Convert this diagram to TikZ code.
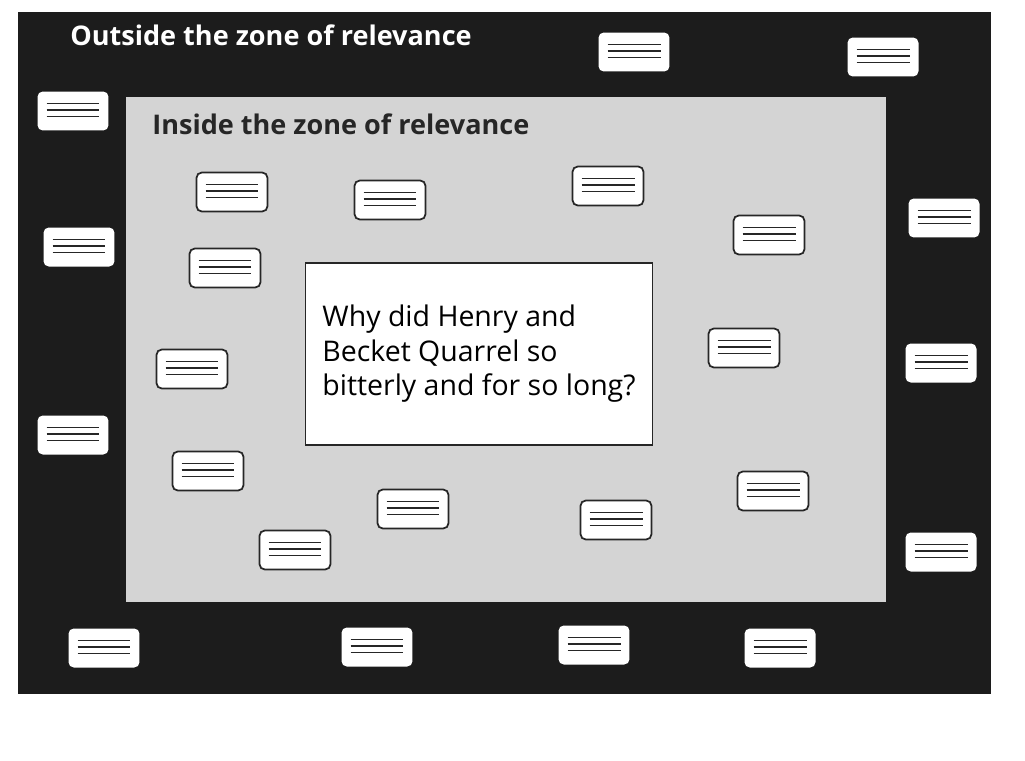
\documentclass[tikz,border=0pt]{standalone}
\usepackage{fontspec}
\setmainfont{Open Sans}
\usepackage{xcolor}
\usepackage{tikz}

\definecolor{zoneout}{gray}{0.11}
\definecolor{zonein}{gray}{0.83}

\begin{document}
\begin{tikzpicture}[
    x=0.02cm, y=-0.02cm,
    card/.style={
      rectangle, rounded corners=3pt,
      fill=white, inner sep=0pt,
      minimum width=1.42cm, minimum height=0.78cm,
      path picture={
        \foreach \dy in {0.15,0.02,-0.11}
          \draw[line width=0.9pt, black!85]
            ([xshift=0.18cm,yshift=\dy cm]path picture bounding box.west) --
            ([xshift=-0.18cm,yshift=\dy cm]path picture bounding box.east);
      }
    },
    outcard/.style={card},
    incard/.style={card, draw=black!85, line width=1pt},
    question/.style={
      rectangle, draw=black!85, line width=0.9pt,
      fill=white, minimum width=6.94cm, minimum height=3.64cm,
      align=left,
      font=\fontsize{16.2}{19.6}\selectfont
    },
    zonetitle/.style={anchor=base west, inner sep=0pt, font=\fontsize{15.4}{18}\selectfont\bfseries}
  ]
    \useasboundingbox[fill=white] (0,0) rectangle (1025,761);

    % zones
    \fill[zoneout] (18,12) rectangle (991,694);
    \fill[zonein] (126,97) rectangle (886,602);

    \node[zonetitle, text=white] (outtitle) at (70,45) {Outside the zone of relevance};
    \node[zonetitle, text=black!85] (intitle) at (152,134) {Inside the zone of relevance};

    \node[question] (quarrel) at (479,354) {
      Why did Henry and\\
      Becket Quarrel so\\
      bitterly and for so long?
    };

    % cards outside the zone
    \foreach \px/\py [count=\k] in {634/52, 883/57, 73/111, 79/247, 944/218, 941/363,
        73/435, 941/552, 104/648, 377/647, 594/645, 780/648}
      \node[outcard] (out\k) at (\px,\py) {};

    % cards inside the zone
    \foreach \px/\py [count=\k] in {232/192, 390/200, 608/186, 769/235, 225/268, 192/369,
        744/348, 208/471, 413/509, 616/520, 773/491, 295/550}
      \node[incard] (in\k) at (\px,\py) {};
  \end{tikzpicture}
\end{document}
